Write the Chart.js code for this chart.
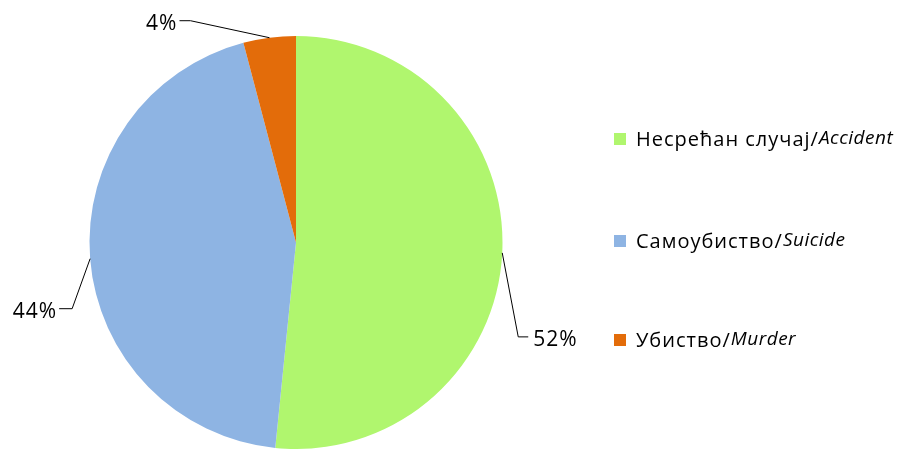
<!DOCTYPE html>
<html>
<head>
<meta charset="utf-8">
<script src="https://cdn.jsdelivr.net/npm/chart.js@4"></script>
<style>
  html, body { margin: 0; padding: 0; background: #fff; }
  #wrap { width: 898px; height: 449px; }
</style>
</head>
<body>
<div id="wrap"><canvas id="myChart" width="898" height="449"></canvas></div>
<script>
const labelsSr = ['Несрећан случај/', 'Самоубиство/', 'Убиство/'];
const labelsEn = ['Accident', 'Suicide', 'Murder'];
const values = [51.6, 44.3, 4.1];
const colors = ['rgb(176, 246, 110)', 'rgb(142, 180, 227)', 'rgb(227, 108, 10)'];

const FONT = '"Open Sans", sans-serif';

// leader elbow offsets (from the slice edge point), label side and text gap
const leaders = [
    { dx: 16, dy: 84, len: 10, side: 1, gap: 5 },
    { dx: -18, dy: 50, len: 13, side: -1, gap: 2 },
    { dx: -79, dy: -17, len: 11, side: -1, gap: 2 }
];

const extras = {
    id: 'extras',
    afterDraw(chart) {
        const ctx = chart.ctx;
        const meta = chart.getDatasetMeta(0);
        const total = values.reduce((a, b) => a + b, 0);
        ctx.save();
        ctx.strokeStyle = '#000';
        ctx.lineWidth = 1;
        ctx.fillStyle = '#000';
        ctx.textBaseline = 'middle';
        meta.data.forEach((arc, i) => {
            const mid = (arc.startAngle + arc.endAngle) / 2;
            const sx = arc.x + Math.cos(mid) * arc.outerRadius;
            const sy = arc.y + Math.sin(mid) * arc.outerRadius;
            const l = leaders[i];
            const ex = sx + l.dx, ey = sy + l.dy;
            const hx = ex + l.side * l.len;
            ctx.beginPath();
            ctx.moveTo(sx, sy);
            ctx.lineTo(ex, ey);
            ctx.lineTo(hx, ey);
            ctx.stroke();
            const txt = Math.round(values[i] / total * 100) + '%';
            ctx.font = '21px ' + FONT;
            ctx.letterSpacing = '1px';
            ctx.textAlign = l.side > 0 ? 'left' : 'right';
            ctx.fillText(txt, hx + l.side * l.gap, ey + 3);
        });

        // legend
        const rows = [139, 241, 340];
        rows.forEach((y, i) => {
            ctx.fillStyle = colors[i];
            ctx.fillRect(614, y - 6, 12, 12);
            ctx.fillStyle = '#000';
            ctx.textAlign = 'left';
            ctx.font = '20px ' + FONT;
            ctx.letterSpacing = '1px';
            ctx.fillText(labelsSr[i], 636, y + 1);
            const w = ctx.measureText(labelsSr[i]).width;
            ctx.font = 'italic 19px ' + FONT;
            ctx.letterSpacing = '0.5px';
            ctx.fillText(labelsEn[i], 636 + w, y);
        });
        ctx.restore();
    }
};

const ctx = document.getElementById('myChart').getContext('2d');
const myChart = new Chart(ctx, {
    type: 'pie',
    data: {
        labels: labelsEn,
        datasets: [{
            data: values,
            backgroundColor: colors,
            borderWidth: 0
        }]
    },
    options: {
        responsive: false,
        animation: false,
        layout: {
            padding: { left: 89, right: 395, top: 36, bottom: 0 }
        },
        plugins: {
            legend: { display: false },
            tooltip: { enabled: false }
        }
    },
    plugins: [extras]
});
</script>
</body>
</html>
